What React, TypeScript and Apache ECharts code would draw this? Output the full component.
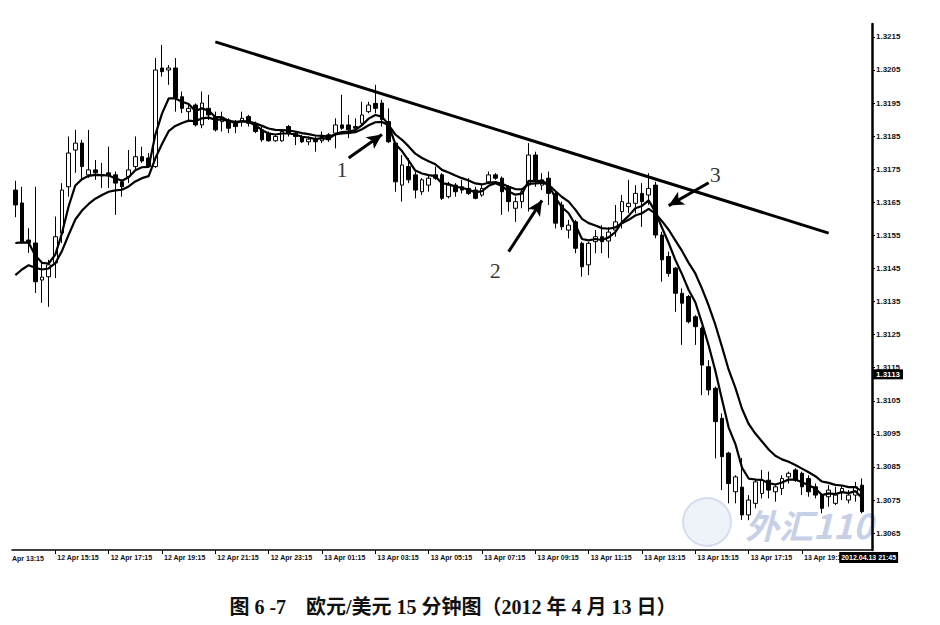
import React, { useEffect, useRef } from "react";
import * as echarts from "echarts";

// 15-minute EUR/USD candles, [open, close, low, high], first visible bar 12 Apr 13:45
const CANDLES: number[][] = [
  [1.31687, 1.31642, 1.31605, 1.31715],
  [1.31648, 1.31531, 1.31525, 1.31697],
  [1.31536, 1.31527, 1.31497, 1.31572],
  [1.31527, 1.3141, 1.31376, 1.31697],
  [1.31415, 1.31424, 1.31346, 1.31467],
  [1.31425, 1.31461, 1.31334, 1.31476],
  [1.31467, 1.31546, 1.31421, 1.31607],
  [1.31557, 1.31687, 1.31527, 1.31708],
  [1.31697, 1.31799, 1.31667, 1.31849],
  [1.31808, 1.31829, 1.31739, 1.31869],
  [1.31829, 1.31758, 1.31718, 1.31839],
  [1.31733, 1.31748, 1.31724, 1.31869],
  [1.31748, 1.31739, 1.31718, 1.31778],
  [1.31733, 1.3173, 1.31693, 1.31769],
  [1.31739, 1.3173, 1.31693, 1.31818],
  [1.31733, 1.31708, 1.31612, 1.31743],
  [1.31712, 1.31697, 1.31667, 1.31718],
  [1.31728, 1.31748, 1.31708, 1.31808],
  [1.31758, 1.31788, 1.31748, 1.31849],
  [1.31788, 1.31775, 1.31769, 1.31818],
  [1.31784, 1.31758, 1.31754, 1.31799],
  [1.31758, 1.3205, 1.31754, 1.32086],
  [1.32056, 1.32045, 1.3203, 1.32126],
  [1.3205, 1.32056, 1.32005, 1.32065],
  [1.32056, 1.31965, 1.31924, 1.32086],
  [1.31969, 1.31934, 1.3192, 1.31985],
  [1.31924, 1.31934, 1.31899, 1.31944],
  [1.31944, 1.31884, 1.31879, 1.31949],
  [1.31884, 1.3195, 1.31874, 1.31985],
  [1.31934, 1.31914, 1.31899, 1.31975],
  [1.31909, 1.31869, 1.31864, 1.31924],
  [1.31894, 1.31904, 1.31864, 1.31924],
  [1.31899, 1.31874, 1.31859, 1.31904],
  [1.31889, 1.31879, 1.31859, 1.31899],
  [1.31894, 1.31904, 1.31879, 1.31924],
  [1.31909, 1.31889, 1.31879, 1.31914],
  [1.31884, 1.31864, 1.31859, 1.31894],
  [1.31869, 1.31839, 1.31833, 1.31879],
  [1.31859, 1.31836, 1.31833, 1.31864],
  [1.31836, 1.31849, 1.31833, 1.31854],
  [1.31836, 1.31864, 1.31833, 1.31869],
  [1.31879, 1.31859, 1.31849, 1.31884],
  [1.31859, 1.31849, 1.31823, 1.31864],
  [1.31849, 1.31833, 1.31829, 1.31854],
  [1.31833, 1.31841, 1.31823, 1.31849],
  [1.31839, 1.31833, 1.31803, 1.31849],
  [1.31836, 1.31849, 1.31829, 1.31864],
  [1.31854, 1.31839, 1.31833, 1.31859],
  [1.31859, 1.31884, 1.31813, 1.31904],
  [1.31884, 1.31874, 1.31869, 1.31975],
  [1.31884, 1.31869, 1.31844, 1.31914],
  [1.31879, 1.31874, 1.31864, 1.31904],
  [1.31889, 1.31914, 1.31879, 1.31954],
  [1.31924, 1.31944, 1.31919, 1.31954],
  [1.31949, 1.31934, 1.31919, 1.32005],
  [1.3195, 1.319, 1.31879, 1.3196],
  [1.31894, 1.31833, 1.31829, 1.31934],
  [1.31829, 1.31712, 1.31682, 1.31833],
  [1.31702, 1.31763, 1.31652, 1.31793],
  [1.31758, 1.31718, 1.31708, 1.31784],
  [1.31733, 1.31687, 1.31662, 1.31743],
  [1.31682, 1.31718, 1.31672, 1.31723],
  [1.31702, 1.31723, 1.31682, 1.31733],
  [1.31733, 1.31723, 1.31718, 1.31758],
  [1.31733, 1.31662, 1.31657, 1.31738],
  [1.31667, 1.31702, 1.31662, 1.31712],
  [1.31702, 1.31682, 1.31667, 1.31708],
  [1.31697, 1.31687, 1.31677, 1.31718],
  [1.31692, 1.31677, 1.31672, 1.31723],
  [1.31687, 1.31662, 1.31659, 1.31697],
  [1.31672, 1.31692, 1.31667, 1.31702],
  [1.31712, 1.31733, 1.31708, 1.31743],
  [1.31733, 1.31723, 1.31718, 1.31738],
  [1.31723, 1.31682, 1.31612, 1.31728],
  [1.31697, 1.31652, 1.31622, 1.31702],
  [1.31632, 1.31652, 1.31591, 1.31667],
  [1.31652, 1.31682, 1.31632, 1.31692],
  [1.31702, 1.31793, 1.31622, 1.31829],
  [1.31793, 1.31712, 1.31697, 1.31803],
  [1.31702, 1.31718, 1.31687, 1.31738],
  [1.31723, 1.31677, 1.31642, 1.31743],
  [1.31677, 1.31587, 1.31571, 1.31682],
  [1.31642, 1.31576, 1.31566, 1.31652],
  [1.31566, 1.31581, 1.31541, 1.31597],
  [1.31591, 1.31511, 1.31496, 1.31597],
  [1.31526, 1.31455, 1.31425, 1.31531],
  [1.31461, 1.31526, 1.3143, 1.31531],
  [1.31531, 1.31546, 1.31496, 1.31566],
  [1.31546, 1.31531, 1.31496, 1.31581],
  [1.31533, 1.3156, 1.31482, 1.31575],
  [1.31566, 1.31591, 1.31546, 1.31642],
  [1.31622, 1.31652, 1.31571, 1.31672],
  [1.31637, 1.31647, 1.31617, 1.31718],
  [1.31647, 1.31677, 1.31617, 1.31702],
  [1.31677, 1.31652, 1.31576, 1.31708],
  [1.31672, 1.31692, 1.31642, 1.31738],
  [1.31702, 1.31551, 1.31541, 1.31712],
  [1.31551, 1.31476, 1.3141, 1.31561],
  [1.31486, 1.31435, 1.31425, 1.31501],
  [1.31451, 1.31375, 1.31319, 1.31455],
  [1.31375, 1.31345, 1.31219, 1.3139],
  [1.31365, 1.31289, 1.31284, 1.3137],
  [1.31304, 1.31274, 1.31219, 1.31309],
  [1.31269, 1.31158, 1.31067, 1.31274],
  [1.31153, 1.31083, 1.31067, 1.31173],
  [1.31088, 1.30987, 1.30876, 1.31093],
  [1.30997, 1.30881, 1.3078, 1.31012],
  [1.30892, 1.308, 1.3074, 1.30896],
  [1.30775, 1.3082, 1.3074, 1.30825],
  [1.30789, 1.30705, 1.3069, 1.30877],
  [1.30705, 1.3075, 1.30689, 1.30765],
  [1.3074, 1.30805, 1.30725, 1.30815],
  [1.3077, 1.3081, 1.30755, 1.30841],
  [1.3081, 1.3078, 1.30755, 1.30836],
  [1.30775, 1.3079, 1.30745, 1.30795],
  [1.30785, 1.30815, 1.30765, 1.30825],
  [1.3082, 1.30831, 1.308, 1.30836],
  [1.30841, 1.3081, 1.30805, 1.30846],
  [1.30831, 1.3079, 1.30765, 1.30836],
  [1.30815, 1.30775, 1.3076, 1.30825],
  [1.3079, 1.30765, 1.30755, 1.308],
  [1.30765, 1.30725, 1.3071, 1.3077],
  [1.3076, 1.3078, 1.3073, 1.30795],
  [1.3074, 1.30765, 1.30735, 1.3079],
  [1.30775, 1.30785, 1.3075, 1.30795],
  [1.3075, 1.30765, 1.3074, 1.3078],
  [1.30765, 1.3079, 1.30745, 1.30805],
  [1.30795, 1.30715, 1.3071, 1.30815],
];

// Moving averages (EMA) and their starting values read at the left edge
const FAST_MA_PERIOD = 5;
const SLOW_MA_PERIOD = 11;
const FAST_MA_START = 1.3147;
const SLOW_MA_START = 1.31388;

// Price axis
const Y_MIN = 1.30599;
const Y_MAX = 1.32189;
const Y_TICKS = [
  1.3065, 1.3075, 1.3085, 1.3095, 1.3105, 1.3115, 1.3125, 1.3135, 1.3145, 1.3155,
  1.3165, 1.3175, 1.3185, 1.3195, 1.3205, 1.3215,
];

// Cursor read-outs on the axes
const CURSOR_PRICE = 1.3113;
const CURSOR_TIME_LABEL = "2012.04.13 21:45";
const FIRST_CLIPPED_LABEL = "Apr 13:15";

// Resistance (trend) line and the three touch arrows
const TREND_LINE = [
  ["12 Apr 21:15", 1.32135],
  ["13 Apr 20:15", 1.31557],
];
const ARROWS = [
  { from: ["13 Apr 02:15", 1.31784], to: ["13 Apr 03:30", 1.31855] },
  { from: ["13 Apr 08:15", 1.31501], to: ["13 Apr 09:30", 1.31656] },
  { from: ["13 Apr 15:45", 1.31709], to: ["13 Apr 14:15", 1.3164] },
];
const ARROW_LABELS = [
  { at: ["13 Apr 02:00", 1.31748], text: "1" },
  { at: ["13 Apr 07:45", 1.31445], text: "2" },
  { at: ["13 Apr 16:00", 1.31733], text: "3" },
];

const CAPTION = "图 6 -7    欧元/美元 15 分钟图（2012 年 4 月 13 日）";
const WATERMARK = "外汇110";

const START_UTC = Date.UTC(2012, 3, 12, 13, 45);
const BAR_MS = 15 * 60 * 1000;

function fmtTime(t: number): string {
  const d = new Date(t);
  const hh = String(d.getUTCHours()).padStart(2, "0");
  const mm = String(d.getUTCMinutes()).padStart(2, "0");
  return `${d.getUTCDate()} Apr ${hh}:${mm}`;
}

// one extra empty slot at the right (the cursor bar)
const TIMES: string[] = Array.from({ length: CANDLES.length + 1 }, (_, k) =>
  fmtTime(START_UTC + k * BAR_MS)
);

function ema(period: number, start: number): (number | string)[] {
  const a = 2 / (period + 1);
  let prev = start;
  const out: (number | string)[] = CANDLES.map((c) => {
    prev = prev + a * (c[1] - prev);
    return +prev.toFixed(5);
  });
  out.push("-");
  return out;
}

const LABEL_FONT = "'Liberation Sans', Arial, sans-serif";

function showTimeLabel(index: number): boolean {
  const t = TIMES[index];
  if (!t || index > TIMES.length - 10) return false;
  const hh = parseInt(t.slice(-5, -3), 10);
  return t.endsWith(":15") && hh % 2 === 1;
}

export default function App() {
  const ref = useRef<HTMLDivElement>(null);

  useEffect(() => {
    document.body.style.margin = "0";
    if (!ref.current) return;
    const chart = echarts.init(ref.current, undefined, { renderer: "svg" });

    const candleData: any[] = CANDLES.map((c) => c.slice());
    candleData.push("-");

    const option: any = {
      animation: false,
      backgroundColor: "#ffffff",
      grid: { left: 12, right: 68, top: 24, height: 526, containLabel: false },
      xAxis: {
        type: "category",
        data: TIMES,
        boundaryGap: true,
        axisLine: { show: true, lineStyle: { color: "#000", width: 1.5 } },
        axisTick: {
          show: true,
          interval: (i: number) => showTimeLabel(i),
          alignWithLabel: true,
          length: 4,
          lineStyle: { color: "#000", width: 1 },
        },
        axisLabel: {
          interval: (i: number) => showTimeLabel(i),
          align: "left",
          margin: 4,
          padding: [0, 0, 0, 2],
          color: "#111",
          fontSize: 7,
          fontWeight: "bold",
          fontFamily: LABEL_FONT,
        },
        splitLine: { show: false },
        axisPointer: {
          show: true,
          type: "none",
          status: "show",
          value: TIMES.length - 1,
          triggerTooltip: false,
          label: {
            show: true,
            formatter: () => CURSOR_TIME_LABEL,
            backgroundColor: "#000",
            color: "#fff",
            fontSize: 7,
            fontWeight: "bold",
            fontFamily: LABEL_FONT,
            padding: [2, 2],
            margin: 2,
            borderRadius: 0,
          },
        },
      },
      yAxis: {
        type: "value",
        position: "right",
        min: Y_MIN,
        max: Y_MAX,
        scale: true,
        axisLine: { show: true, onZero: false, lineStyle: { color: "#000", width: 2.5 } },
        axisTick: { show: true, customValues: Y_TICKS, length: 3, lineStyle: { color: "#000" } },
        axisLabel: {
          customValues: Y_TICKS,
          formatter: (v: number) => v.toFixed(4),
          margin: 4,
          color: "#111",
          fontSize: 8,
          fontWeight: "bold",
          fontFamily: LABEL_FONT,
        },
        splitLine: { show: false },
        axisPointer: {
          show: true,
          type: "none",
          status: "show",
          value: CURSOR_PRICE,
          triggerTooltip: false,
          label: {
            show: true,
            formatter: () => CURSOR_PRICE.toFixed(4),
            backgroundColor: "#000",
            color: "#fff",
            fontSize: 8,
            fontWeight: "bold",
            fontFamily: LABEL_FONT,
            padding: [1, 3],
            margin: 1,
            borderRadius: 0,
          },
        },
      },
      series: [
        {
          name: "EURUSD M15",
          type: "candlestick",
          data: candleData,
          barWidth: 4,
          itemStyle: {
            color: "#ffffff",
            color0: "#000000",
            borderColor: "#000000",
            borderColor0: "#000000",
            borderWidth: 1,
          },
          markLine: {
            silent: true,
            symbol: ["none", "none"],
            label: { show: false },
            lineStyle: { color: "#000", width: 3, type: "solid" },
            data: [
              [
                { coord: [TREND_LINE[0][0], TREND_LINE[0][1]] },
                { coord: [TREND_LINE[1][0], TREND_LINE[1][1]] },
              ],
            ],
          },
        },
        {
          name: "MA fast",
          type: "line",
          data: ema(FAST_MA_PERIOD, FAST_MA_START),
          showSymbol: false,
          symbol: "none",
          lineStyle: { color: "#000", width: 2.2 },
          z: 3,
        },
        {
          name: "MA slow",
          type: "line",
          data: ema(SLOW_MA_PERIOD, SLOW_MA_START),
          showSymbol: false,
          symbol: "none",
          lineStyle: { color: "#000", width: 2.2 },
          z: 3,
        },
        {
          name: "labels",
          type: "scatter",
          symbolSize: 2,
          itemStyle: { color: "rgba(0,0,0,0)" },
          z: 4,
          data: ARROW_LABELS.map((a) => ({
            value: a.at,
            label: {
              show: true,
              position: "inside",
              formatter: a.text,
              color: "#000",
              textBorderWidth: 0,
              fontSize: 22,
              fontFamily: "'Liberation Serif', 'DejaVu Serif', serif",
            },
          })),
          markLine: {
            silent: true,
            symbol: ["none", "arrow"],
            symbolSize: [11, 15],
            label: { show: false },
            lineStyle: { color: "#000", width: 3, type: "solid" },
            data: ARROWS.map((a) => [
              { coord: a.from, symbol: "none" },
              { coord: a.to, symbol: "arrow", symbolSize: [11, 15] },
            ]),
          },
        },
      ],
      graphic: [
        {
          type: "text",
          x: 12,
          y: 555,
          style: {
            text: FIRST_CLIPPED_LABEL,
            fill: "#111",
            fontSize: 7,
            fontWeight: "bold",
            fontFamily: LABEL_FONT,
            align: "left",
            verticalAlign: "top",
          },
        },
        {
          type: "circle",
          shape: { cx: 707, cy: 522, r: 24 },
          style: { fill: "#e3e9f5", stroke: "#bfcbe4", lineWidth: 2, opacity: 0.6 },
          z: -1,
        },
        {
          type: "text",
          x: 745,
          y: 524,
          z: -1,
          style: {
            text: WATERMARK,
            fill: "#b3c1e0",
            opacity: 0.75,
            fontSize: 34,
            fontStyle: "italic",
            fontWeight: "bold",
            fontFamily: "'Noto Sans CJK SC', sans-serif",
            align: "left",
            verticalAlign: "middle",
          },
        },
        {
          type: "text",
          x: 453,
          y: 607,
          style: {
            text: CAPTION,
            fill: "#111",
            fontSize: 20,
            fontWeight: "bold",
            fontFamily: "'Liberation Serif', 'Noto Sans CJK SC', serif",
            align: "center",
            verticalAlign: "middle",
          },
        },
      ],
    };

    chart.setOption(option);
    return () => chart.dispose();
  }, []);

  return <div ref={ref} style={{ width: 940, height: 625 }} />;
}
